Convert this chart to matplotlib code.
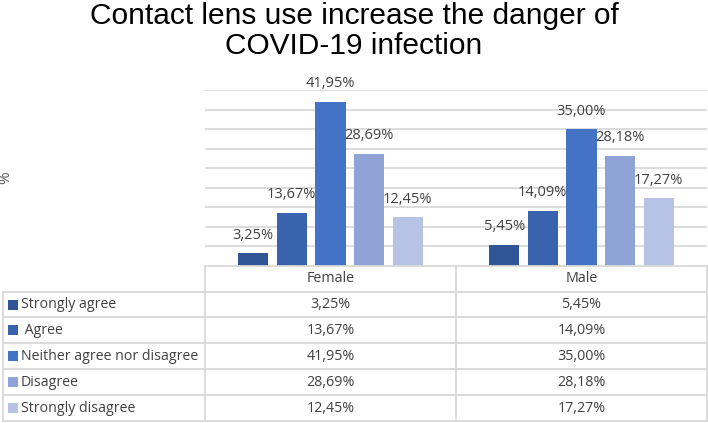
import matplotlib
matplotlib.use("Agg")
import matplotlib.pyplot as plt
import numpy as np

# chart data
groups = ["Female", "Male"]
responses = ["Strongly agree", " Agree", "Neither agree nor disagree", "Disagree", "Strongly disagree"]
female = [3.25, 13.67, 41.95, 28.69, 12.45]
male = [5.45, 14.09, 35.00, 28.18, 17.27]
colors = ["#2F5597", "#3A63AE", "#4472C4", "#8FA3D7", "#B7C3E4"]

W, H = 708, 423
fig = plt.figure(figsize=(W / 100, H / 100), dpi=100)
plt.rcParams["font.family"] = ["Open Sans", "DejaVu Sans"]

text_col = "#404040"
grid_col = "#D9D9D9"


def fx(px):
    return px / W


def fy(py):
    return 1 - py / H


# bar area
left, right, top, base = 205, 707, 90, 266
ax = fig.add_axes([fx(left), fy(base), fx(right - left), fy(top) - fy(base)])
values = np.array([female, male])
x = np.arange(len(groups))
step, width = 0.154, 0.1215
for i, resp in enumerate(responses):
    xs = x + (i - 2) * step
    ax.bar(xs, values[:, i], width=width, color=colors[i], zorder=3)
    for xi, v in zip(xs, values[:, i]):
        ax.annotate(f"{v:.2f}%".replace(".", ","), (xi, v), xytext=(0, 13),
                    textcoords="offset points", ha="center", va="center",
                    fontsize=10.5, color=text_col)
ax.set_xlim(-0.5, 1.5)
ax.set_ylim(0, 45)
ax.set_yticks(np.arange(5, 50, 5))
ax.yaxis.grid(True, color=grid_col, linewidth=1.3)
ax.tick_params(left=False, bottom=False, labelleft=False, labelbottom=False)
for s in ax.spines.values():
    s.set_visible(False)

# title and axis label
fig.text(fx(354), fy(31), "Contact lens use increase the danger of\nCOVID-19 infection",
         ha="center", va="center", fontsize=21.5, family="Liberation Sans",
         linespacing=1.05, color="black")
fig.text(fx(6), fy(178), "%", rotation=90, ha="center", va="center",
         fontsize=11, color="#595959")

# data table
ov = fig.add_axes([0, 0, 1, 1])
ov.set_xlim(0, W)
ov.set_ylim(H, 0)
ov.axis("off")
rows_y = [266, 292, 317.5, 343.5, 369.5, 395.5, 421.5]
col_x = [3, 205, 456, 707]
lw = 1.3
# horizontal lines
ov.plot([col_x[1], col_x[3]], [rows_y[0]] * 2, color=grid_col, lw=lw)
for yy in rows_y[1:]:
    ov.plot([col_x[0], col_x[3]], [yy] * 2, color=grid_col, lw=lw)
# vertical lines
ov.plot([col_x[0]] * 2, [rows_y[1], rows_y[-1]], color=grid_col, lw=lw)
for xx in col_x[1:]:
    ov.plot([xx] * 2, [rows_y[0], rows_y[-1]], color=grid_col, lw=lw)

for j, g in enumerate(groups):
    cx = (col_x[j + 1] + col_x[j + 2]) / 2
    ov.text(cx, (rows_y[0] + rows_y[1]) / 2, g, ha="center", va="center",
            fontsize=10.3, color=text_col)
    for i in range(len(responses)):
        cy = (rows_y[i + 1] + rows_y[i + 2]) / 2
        ov.text(cx, cy, f"{values[j, i]:.2f}%".replace(".", ","), ha="center",
                va="center", fontsize=10.3, color=text_col)

for i, resp in enumerate(responses):
    cy = (rows_y[i + 1] + rows_y[i + 2]) / 2
    ov.scatter([12.5], [cy], marker="s", s=50, color=colors[i], linewidths=0)
    ov.text(21, cy, resp, ha="left", va="center", fontsize=10.2, color=text_col)

fig.savefig("out.png", dpi=100)
